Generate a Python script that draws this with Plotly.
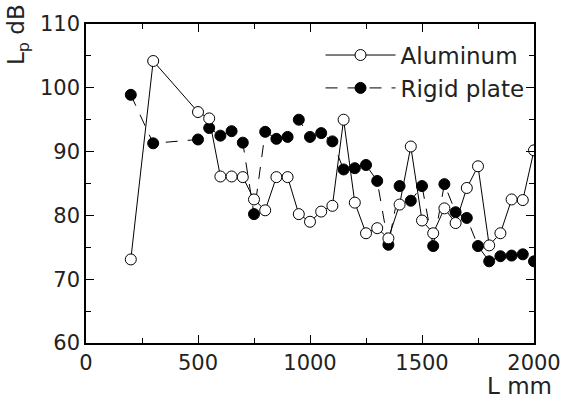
import plotly.graph_objects as go

L_mm = [200, 300, 500, 550, 600, 650, 700, 750, 800, 850, 900, 950, 1000, 1050,
        1100, 1150, 1200, 1250, 1300, 1350, 1400, 1450, 1500, 1550, 1600, 1650,
        1700, 1750, 1800, 1850, 1900, 1950, 2000]

aluminum = [73.1, 104.2, 96.2, 95.2, 86.1, 86.1, 86.0, 82.5, 80.8, 86.0, 86.0, 80.2,
            79.0, 80.6, 81.5, 95.0, 82.0, 77.2, 78.0, 76.4, 81.7, 90.8, 79.2, 77.2,
            81.1, 78.8, 84.3, 87.7, 75.3, 77.2, 82.5, 82.4, 90.2]

rigid_plate = [98.9, 91.3, 91.9, 93.7, 92.5, 93.2, 91.4, 80.2, 93.1, 92.0, 92.3, 95.0,
               92.3, 92.9, 91.6, 87.2, 87.4, 87.9, 85.4, 75.4, 84.6, 82.3, 84.6, 75.2,
               84.9, 80.5, 79.6, 75.2, 72.8, 73.6, 73.7, 73.9, 72.8]

x_ticks = [0, 500, 1000, 1500, 2000]
y_ticks = [60, 70, 80, 90, 100, 110]

FONT = "DejaVu Sans"
TXT = "#222"

fig = go.Figure()
fig.add_trace(go.Scatter(
    x=L_mm, y=rigid_plate, name="Rigid plate", mode="lines+markers",
    line=dict(color="black", width=1, dash="12px,10px"),
    marker=dict(symbol="circle", size=11, color="black", line=dict(color="black", width=1)),
))
fig.add_trace(go.Scatter(
    x=L_mm, y=aluminum, name="Aluminum", mode="lines+markers",
    line=dict(color="black", width=1),
    marker=dict(symbol="circle", size=11, color="white", line=dict(color="black", width=1)),
))

axis_common = dict(
    showline=True, linecolor="black", linewidth=1.5, mirror="ticks",
    ticks="inside", ticklen=8, tickwidth=1, tickcolor="black",
    showgrid=False, zeroline=False, automargin=False,
    tickfont=dict(family=FONT, size=21, color=TXT),
)

fig.update_xaxes(range=[0, 2000], tickvals=x_ticks,
                 minor=dict(ticks="inside", ticklen=5, dtick=250, tickcolor="black", showgrid=False),
                 **axis_common)
fig.update_yaxes(range=[60, 110], tickvals=y_ticks,
                 minor=dict(ticks="inside", ticklen=5, dtick=5, tickcolor="black", showgrid=False),
                 **axis_common)

fig.update_layout(
    width=564, height=399,
    margin=dict(l=86, r=30, t=24, b=56),
    paper_bgcolor="white", plot_bgcolor="white",
    showlegend=True,
    legend=dict(x=0.99, y=0.97, xanchor="right", yanchor="top",
                traceorder="reversed", bgcolor="rgba(255,255,255,0)",
                font=dict(family=FONT, size=23, color=TXT),
                itemwidth=70, tracegroupgap=0),
    annotations=[
        dict(text="L<sub>p</sub> dB", xref="paper", yref="paper", x=-0.152, y=1.07,
             xanchor="center", yanchor="top", textangle=-90, showarrow=False,
             font=dict(family=FONT, size=23, color=TXT)),
        dict(text="L mm", xref="paper", yref="paper", x=1.045, y=-0.135,
             xanchor="right", yanchor="middle", showarrow=False,
             font=dict(family=FONT, size=23, color=TXT)),
    ],
)

fig.write_html("out.html")
